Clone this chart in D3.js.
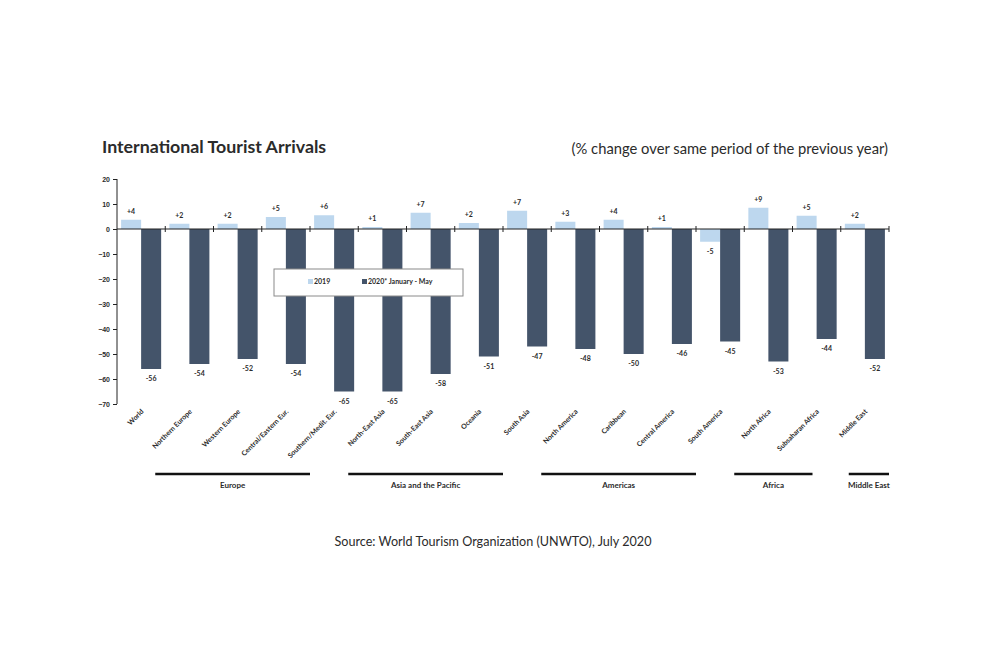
<!DOCTYPE html>
<html lang="en">
<head>
  <meta charset="UTF-8">
  <title>International Tourist Arrivals</title>
  <script src="https://d3js.org/d3.v7.min.js"></script>
  <style>
    body {
      margin: 0;
      background: #fff;
      font-family: Lato, "Open Sans", sans-serif;
    }
    svg text {
      fill: #2b2b2b;
    }
    .small {
      font-size: 7px;
      font-weight: bold;
    }
  </style>
</head>
<body>
  <svg width="987" height="650"></svg>

  <script>
    // Regions, in chart order
    const categories = [
      "World", "Northern Europe", "Western Europe", "Central/Eastern Eur.",
      "Southern/Medit. Eur.", "North-East Asia", "South-East Asia", "Oceania",
      "South Asia", "North America", "Caribbean", "Central America",
      "South America", "North Africa", "Subsaharan Africa", "Middle East"
    ];

    // % change
    const values2019 = [3.7, 2.1, 2.1, 4.8, 5.5, 0.8, 6.5, 2.4, 7.3, 2.9, 3.7, 0.8, -5.1, 8.5, 5.3, 2.1];
    const values2020 = [-56, -54, -52, -54, -65, -65, -58, -51, -47, -48, -50, -46, -45, -53, -44, -52];

    const seriesNames = ["2019", "2020* January - May"];
    const seriesColors = ["#bdd7ee", "#44546a"];

    const yTicks = [20, 10, 0, -10, -20, -30, -40, -50, -60, -70];

    // Regional groups under the axis
    const groups = [
      { name: "Europe", first: "Northern Europe", last: "Southern/Medit. Eur." },
      { name: "Asia and the Pacific", first: "North-East Asia", last: "South Asia" },
      { name: "Americas", first: "North America", last: "South America" },
      { name: "Africa", first: "North Africa", last: "Subsaharan Africa" },
      { name: "Middle East", first: "Middle East", last: "Middle East" }
    ];

    const svg = d3.select("svg");

    const plot = { left: 117, right: 889, top: 179, bottom: 404 };

    const x = d3.scaleBand()
      .domain(categories)
      .range([plot.left, plot.right])
      .paddingInner(0.17)
      .paddingOuter(0.085);

    const xs = d3.scaleBand()
      .domain([0, 1])
      .range([0, x.bandwidth()]);

    const y = d3.scaleLinear()
      .domain([-70, 20])
      .range([plot.bottom, plot.top]);

    // boundary of each category slot
    const slotStart = d => plot.left + categories.indexOf(d) * x.step();

    // Title and subtitle
    svg.append("text")
      .attr("x", 102)
      .attr("y", 153)
      .attr("font-size", 17.8)
      .attr("font-weight", "bold")
      .text("International Tourist Arrivals");

    svg.append("text")
      .attr("x", 888)
      .attr("y", 154)
      .attr("text-anchor", "end")
      .attr("font-size", 14.75)
      .text("(% change over same period of the previous year)");

    // Bars
    const rows = categories.map((c, i) => ({ c, v: [values2019[i], values2020[i]] }));

    const cat = svg.append("g")
      .selectAll("g")
      .data(rows)
      .join("g")
      .attr("transform", d => `translate(${x(d.c)},0)`);

    cat.selectAll("rect")
      .data(d => d.v.map((v, k) => ({ v, k })))
      .join("rect")
      .attr("x", d => xs(d.k))
      .attr("width", xs.bandwidth())
      .attr("y", d => y(Math.max(0, d.v)))
      .attr("height", d => Math.abs(y(d.v) - y(0)))
      .attr("fill", d => seriesColors[d.k]);

    // Value labels
    const fmt = v => (v > 0 ? "+" : "") + Math.round(v);
    cat.selectAll("text.val")
      .data(d => d.v.map((v, k) => ({ v, k })))
      .join("text")
      .attr("class", "val small")
      .attr("x", d => xs(d.k) + xs.bandwidth() / 2)
      .attr("y", d => d.v >= 0 ? y(d.v) - 6 : y(d.v) + 12)
      .attr("text-anchor", "middle")
      .text(d => fmt(d.v));

    // Y axis
    const yAxis = svg.append("g")
      .attr("transform", `translate(${plot.left},0)`)
      .call(d3.axisLeft(y).tickValues(yTicks).tickSize(4).tickPadding(3).tickFormat(d3.format("d")));
    yAxis.select(".domain").attr("stroke", "#222").attr("d", `M0,${plot.top}V${plot.bottom}`);
    yAxis.selectAll(".tick line").attr("stroke", "#222");
    yAxis.selectAll(".tick text")
      .attr("class", "small")
      .attr("font-family", null)
      .attr("font-size", null)
      .attr("fill", "#2b2b2b");

    // Zero line with category ticks
    svg.append("line")
      .attr("x1", plot.left).attr("x2", plot.right)
      .attr("y1", y(0)).attr("y2", y(0))
      .attr("stroke", "#222").attr("stroke-width", 1.2);

    svg.append("g")
      .selectAll("line")
      .data(d3.range(1, categories.length + 1))
      .join("line")
      .attr("x1", i => plot.left + i * x.step())
      .attr("x2", i => plot.left + i * x.step())
      .attr("y1", y(0) - 3)
      .attr("y2", y(0) + 3)
      .attr("stroke", "#222");

    // Category labels
    svg.append("g")
      .selectAll("text")
      .data(categories)
      .join("text")
      .attr("class", "small")
      .attr("text-anchor", "end")
      .attr("transform", d => `translate(${x(d) + x.bandwidth() / 2 + 3},${plot.bottom + 8}) rotate(-45)`)
      .text(d => d);

    // Legend
    const legend = svg.append("g").attr("transform", "translate(274,269)");
    legend.append("rect")
      .attr("width", 189)
      .attr("height", 27)
      .attr("fill", "#fff")
      .attr("stroke", "#8a8a8a");
    const item = legend.selectAll("g")
      .data(seriesNames)
      .join("g")
      .attr("transform", (d, i) => `translate(${[34, 88][i]},10)`);
    item.append("rect")
      .attr("width", 5)
      .attr("height", 5)
      .attr("fill", (d, i) => seriesColors[i]);
    item.append("text")
      .attr("class", "small")
      .attr("x", 6)
      .attr("y", 5)
      .attr("font-size", 6.5)
      .text(d => d);

    // Group lines and names
    const grp = svg.append("g")
      .selectAll("g")
      .data(groups)
      .join("g");

    const gx1 = d => d.first === d.last ? slotStart(d.first) + 8 : slotStart(d.first) - 10;
    const gx2 = d => d.first === d.last ? slotStart(d.last) + x.step() : slotStart(d.last) + (d.name === "Africa" ? 20 : 0);

    grp.append("line")
      .attr("x1", gx1)
      .attr("x2", gx2)
      .attr("y1", 474)
      .attr("y2", 474)
      .attr("stroke", "#111")
      .attr("stroke-width", 2.5);

    grp.append("text")
      .attr("x", d => (gx1(d) + gx2(d)) / 2)
      .attr("y", 488)
      .attr("text-anchor", "middle")
      .attr("font-size", 8)
      .attr("font-weight", "bold")
      .text(d => d.name);

    // Source
    svg.append("text")
      .attr("x", 493)
      .attr("y", 546)
      .attr("text-anchor", "middle")
      .attr("font-size", 12.6)
      .text("Source: World Tourism Organization (UNWTO), July 2020");
  </script>
</body>
</html>
